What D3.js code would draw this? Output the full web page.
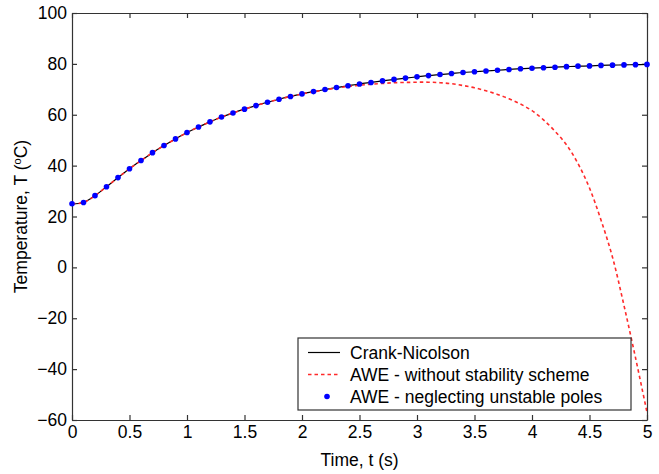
<!DOCTYPE html>
<html>
<head>
<meta charset="utf-8">
<script src="https://cdn.jsdelivr.net/npm/d3@7"></script>
<style>
  body { margin: 0; background: #fff; }
  text { font-family: "Liberation Sans", Arial, sans-serif; fill: #000; }
</style>
</head>
<body>
<div class="chart"></div>
<script>
// time samples, every 0.1 s
const times = d3.range(0, 51).map(i => +(i * 0.1).toFixed(1));

// Crank-Nicolson (also the AWE points that neglect unstable poles)
const crankNicolson = [
  25.0, 25.5, 28.2, 31.7, 35.3, 38.8, 42.0, 45.1, 47.9, 50.5,
  53.0, 55.2, 57.2, 59.1, 60.7, 62.2, 63.6, 64.9, 66.1, 67.2,
  68.2, 69.1, 69.9, 70.7, 71.4, 72.1, 72.7, 73.3, 73.9, 74.4,
  74.9, 75.4, 75.8, 76.2, 76.6, 76.9, 77.2, 77.5, 77.8, 78.1,
  78.3, 78.5, 78.7, 78.9, 79.1, 79.2, 79.4, 79.5, 79.6, 79.7,
  79.8
];

// AWE without stability scheme
const aweUnstable = [
  25.0, 25.5, 28.2, 31.7, 35.3, 38.8, 42.0, 45.1, 47.9, 50.5,
  53.0, 55.2, 57.2, 59.1, 60.7, 62.2, 63.6, 64.9, 66.1, 67.2,
  68.2, 69.0, 69.8, 70.5, 71.1, 71.6, 72.0, 72.3, 72.6, 72.7,
  72.8, 72.8, 72.6, 72.2, 71.5, 70.6, 69.4, 68.0, 66.3, 64.2,
  61.6, 58.0, 53.5, 48.2, 40.8, 31.2, 18.6, 4.0, -15.0, -35.5,
  -57.0
];

const xTicks = [0, 0.5, 1, 1.5, 2, 2.5, 3, 3.5, 4, 4.5, 5];
const yTicks = [-60, -40, -20, 0, 20, 40, 60, 80, 100];
const legendLabels = ["Crank-Nicolson", "AWE - without stability scheme", "AWE - neglecting unstable poles"];

const width = 659, height = 474;
const margin = { top: 13, right: 12, bottom: 54, left: 72 };
const iw = width - margin.left - margin.right,
  ih = height - margin.top - margin.bottom;

const x = d3.scaleLinear().domain([0, 5]).range([0, iw]);
const y = d3.scaleLinear().domain([-60, 100]).range([ih, 0]);

const svg = d3.select(".chart")
  .append("svg")
  .attr("width", width)
  .attr("height", height);

const g = svg.append("g")
  .attr("transform", "translate(" + margin.left + "," + margin.top + ")");

svg.append("defs").append("clipPath").attr("id", "clip")
  .append("rect").attr("width", iw).attr("height", ih);

// axes, matlab style: ticks inside, box all round
const fontSize = 17.5;
const tk = 5;

g.append("g")
  .attr("transform", "translate(0," + ih + ")")
  .call(d3.axisBottom(x).tickValues(xTicks).tickSizeInner(-tk).tickSizeOuter(0).tickPadding(6).tickFormat(d3.format("")))
  .call(a => a.selectAll("text").attr("font-size", fontSize));

g.append("g")
  .call(d3.axisTop(x).tickValues(xTicks).tickSizeInner(-tk).tickSizeOuter(0).tickFormat(""));

g.append("g")
  .call(d3.axisLeft(y).tickValues(yTicks).tickSizeInner(-tk).tickSizeOuter(0).tickPadding(5))
  .call(a => a.selectAll("text").attr("font-size", fontSize));

g.append("g")
  .attr("transform", "translate(" + iw + ",0)")
  .call(d3.axisRight(y).tickValues(yTicks).tickSizeInner(-tk).tickSizeOuter(0).tickFormat(""));

g.selectAll(".domain, .tick line").attr("stroke", "#333").attr("stroke-width", 1.2);
g.selectAll(".tick text").attr("font-family", "Liberation Sans, Arial, sans-serif").attr("fill", "#000");

// axis labels
svg.append("text")
  .attr("x", margin.left + iw / 2)
  .attr("y", 466)
  .attr("text-anchor", "middle")
  .attr("font-size", fontSize)
  .text("Time, t (s)");

const yl = svg.append("text")
  .attr("transform", "translate(27," + (margin.top + ih / 2) + ") rotate(-90)")
  .attr("text-anchor", "middle")
  .attr("font-size", fontSize);
yl.append("tspan").text("Temperature, T (");
yl.append("tspan").attr("font-size", 11).attr("dy", -6).text("o");
yl.append("tspan").attr("dy", 6).text("C)");

// lines
const plot = g.append("g").attr("clip-path", "url(#clip)");

const line = d3.line()
  .x(d => x(d[0]))
  .y(d => y(d[1]))
  .curve(d3.curveCatmullRom);

plot.append("path")
  .datum(times.map((t, i) => [t, crankNicolson[i]]))
  .attr("d", line)
  .attr("fill", "none")
  .attr("stroke", "#000")
  .attr("stroke-width", 1.2);

plot.append("path")
  .datum(times.map((t, i) => [t, aweUnstable[i]]))
  .attr("d", line)
  .attr("fill", "none")
  .attr("stroke", "#ff2a2a")
  .attr("stroke-width", 1.6)
  .attr("stroke-dasharray", "3.5,3");

g.selectAll(".dot")
  .data(times.map((t, i) => [t, crankNicolson[i]]))
  .enter()
  .append("circle")
  .attr("class", "dot")
  .attr("cx", d => x(d[0]))
  .attr("cy", d => y(d[1]))
  .attr("r", 2.8)
  .attr("fill", "#0000ff");

// legend
const lg = svg.append("g").attr("transform", "translate(298,338)");
lg.append("rect")
  .attr("width", 333)
  .attr("height", 72)
  .attr("fill", "#fff")
  .attr("stroke", "#333")
  .attr("stroke-width", 1.2);

const row = lg.selectAll(".legends")
  .data(legendLabels)
  .enter()
  .append("g")
  .attr("transform", (d, i) => "translate(0," + (14.5 + i * 22) + ")");

row.append("text")
  .attr("x", 52)
  .attr("y", 6)
  .attr("font-size", fontSize)
  .text(d => d);

row.filter((d, i) => i === 0).append("line")
  .attr("x1", 10).attr("x2", 42)
  .attr("stroke", "#000").attr("stroke-width", 1.2);
row.filter((d, i) => i === 1).append("line")
  .attr("x1", 10).attr("x2", 42)
  .attr("stroke", "#ff2a2a").attr("stroke-width", 1.6).attr("stroke-dasharray", "3.5,3");
row.filter((d, i) => i === 2).append("circle")
  .attr("cx", 29).attr("r", 2.8).attr("fill", "#0000ff");
</script>
</body>
</html>
